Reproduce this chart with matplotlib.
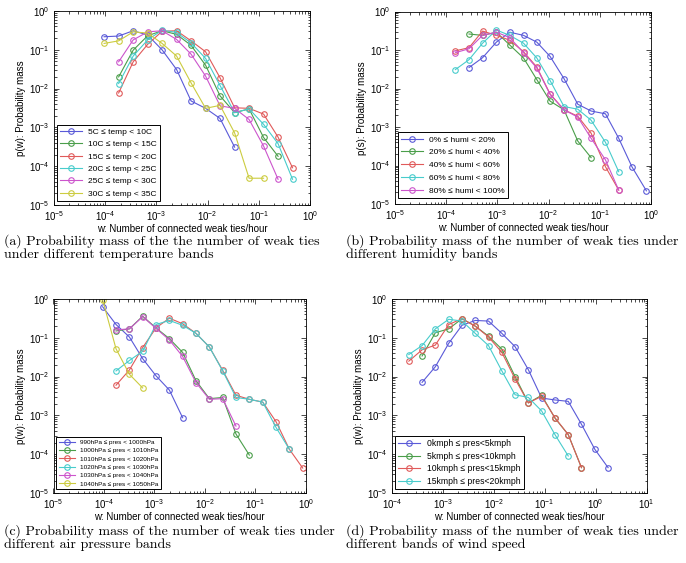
import numpy as np
import matplotlib
matplotlib.use("Agg")
import matplotlib.pyplot as plt
from matplotlib.ticker import LogLocator, NullFormatter

plt.rcParams['font.family'] = ['Liberation Sans', 'DejaVu Sans']
nan = np.nan

# colours (old matlab defaults, a bit washed out as in the scan)
cols = ['#5a5ad8', '#4a9e4a', '#e05a5a', '#48cccc', '#cc55cc', '#cccc40']

# ---- (a) temperature
xa = [9.5e-5, 1.83e-4, 3.52e-4, 6.75e-4, 1.29e-3, 2.48e-3, 4.76e-3, 9.14e-3,
      1.75e-2, 3.37e-2, 6.46e-2, 0.124, 0.238, 0.456]
temp_5_10 = [0.217, 0.226, 0.31, 0.24, 0.10, 0.031, 0.0048, 0.0031, 0.0017, 0.00031, nan, nan, nan, nan]
temp_10_15 = [nan, 0.020, 0.098, 0.23, 0.31, 0.25, 0.13, 0.040, 0.0065, 0.0024, 0.0030, 0.00055, 0.00018, nan]
temp_15_20 = [nan, 0.0077, 0.049, 0.138, 0.30, 0.31, 0.17, 0.089, 0.019, 0.0032, 0.0031, 0.0022, 0.00056, 0.000091]
temp_20_25 = [nan, 0.0135, 0.069, 0.18, 0.32, 0.28, 0.15, 0.06, 0.012, 0.0024, 0.0030, 0.0012, 0.00038, 0.000046]
temp_25_30 = [nan, 0.049, 0.18, 0.29, 0.31, 0.185, 0.077, 0.021, 0.0036, 0.0031, 0.0016, 0.00033, 0.000046, nan]
temp_30_35 = [0.146, 0.17, 0.29, 0.27, 0.146, 0.069, 0.014, 0.0031, 0.0037, 0.00072, 0.000049, 0.000049, nan, nan]
labels_a = ['5C \u2264 temp < 10C', '10C \u2264 temp < 15C', '15C \u2264 temp < 20C',
            '20C \u2264 temp < 25C', '25C \u2264 temp < 30C', '30C \u2264 temp < 35C']

# ---- (b) humidity
xb = [1.51e-4, 2.79e-4, 5.13e-4, 9.55e-4, 1.74e-3, 3.24e-3, 5.89e-3, 1.07e-2,
      2.0e-2, 3.72e-2, 6.76e-2, 0.129, 0.234, 0.427, 0.813]
humi_0_20 = [nan, 0.035, 0.063, 0.16, 0.29, 0.24, 0.16, 0.068, 0.018, 0.0039, 0.0026, 0.0022, 0.00051, 0.000091, 0.000022]
humi_20_40 = [nan, 0.26, 0.24, 0.29, 0.135, 0.062, 0.017, 0.0047, 0.0028, 0.00043, 0.00016, nan, nan, nan, nan]
humi_40_60 = [0.095, 0.115, 0.31, 0.24, 0.18, 0.09, 0.036, 0.0072, 0.0028, 0.0019, 0.00069, 0.000093, 0.000023, nan, nan]
humi_60_80 = [0.031, 0.056, 0.15, 0.33, 0.24, 0.15, 0.062, 0.016, 0.0034, 0.0029, 0.0015, 0.0004, 0.000069, nan, nan]
humi_80_100 = [0.085, 0.108, 0.24, 0.29, 0.21, 0.085, 0.034, 0.007, 0.0028, 0.0018, 0.00051, 0.00014, 0.000023, nan, nan]
labels_b = ['0% \u2264 humi < 20%', '20% \u2264 humi < 40%', '40% \u2264 humi < 60%',
            '60% \u2264 humi < 80%', '80% \u2264 humi < 100%']

# ---- (c) air pressure
xc = [9.4e-5, 1.73e-4, 3.18e-4, 5.83e-4, 1.07e-3, 1.97e-3, 3.61e-3, 6.64e-3,
      1.22e-2, 2.24e-2, 4.11e-2, 7.55e-2, 0.139, 0.255, 0.468, 0.86]
pres_990 = [0.63, 0.22, 0.105, 0.029, 0.0105, 0.0045, 0.00087, nan, nan, nan, nan, nan, nan, nan, nan, nan]
pres_1000 = [nan, 0.15, 0.17, 0.36, 0.18, 0.095, 0.042, 0.0078, 0.0027, 0.0029, 0.00033, 0.000095, nan, nan, nan, nan]
pres_1010 = [nan, 0.006, 0.0148, 0.056, 0.18, 0.32, 0.23, 0.13, 0.058, 0.0145, 0.0033, 0.0026, 0.0022, 0.00069, 0.000134, 0.000044]
pres_1020 = [nan, 0.014, 0.026, 0.045, 0.22, 0.28, 0.21, 0.13, 0.058, 0.014, 0.0029, 0.0026, 0.0022, 0.00049, 0.000134, nan]
pres_1030 = [nan, 0.16, 0.17, 0.35, 0.175, 0.088, 0.033, 0.007, 0.0026, 0.0027, 0.00053, nan, nan, nan, nan, nan]
pres_1040 = [0.95, 0.052, 0.0115, 0.0051, nan, nan, nan, nan, nan, nan, nan, nan, nan, nan, nan, nan]
labels_c = ['990hPa \u2264 pres < 1000hPa', '1000hPa \u2264 pres < 1010hPa', '1010hPa \u2264 pres < 1020hPa',
            '1020hPa \u2264 pres < 1030hPa', '1030hPa \u2264 pres < 1040hPa', '1040hPa \u2264 pres < 1050hPa']

# ---- (d) wind speed
xd = [2.14e-4, 3.90e-4, 7.11e-4, 1.30e-3, 2.37e-3, 4.32e-3, 7.87e-3, 1.44e-2,
      2.62e-2, 4.78e-2, 8.71e-2, 0.159, 0.290, 0.528, 0.964, 1.76]
wind_0_5 = [nan, 0.0071, 0.018, 0.072, 0.21, 0.28, 0.27, 0.13, 0.059, 0.015, 0.0028, 0.0025, 0.0023, 0.00059, 0.000134, 0.000045]
wind_5_10 = [nan, 0.034, 0.135, 0.17, 0.31, 0.20, 0.11, 0.051, 0.010, 0.0021, 0.0033, 0.00085, 0.00032, 0.000045, nan, nan]
wind_10_15 = [0.025, 0.049, 0.065, 0.22, 0.31, 0.20, 0.105, 0.042, 0.0087, 0.0021, 0.0031, 0.00087, 0.00032, 0.000045, nan, nan]
wind_15_20 = [0.037, 0.063, 0.17, 0.30, 0.27, 0.13, 0.063, 0.014, 0.0034, 0.0029, 0.0013, 0.00032, 0.00009, nan, nan, nan]
labels_d = ['0kmph \u2264 pres<5kmph', '5kmph \u2264 pres<10kmph',
            '10kmph \u2264 pres<15kmph', '15kmph \u2264 pres<20kmph']

captions = [
    '(a) Probability mass of the the number of weak ties\nunder different temperature bands',
    '(b) Probability mass of the number of weak ties under\ndifferent humidity bands',
    '(c) Probability mass of the number of weak ties under\ndifferent air pressure bands',
    '(d) Probability mass of the number of weak ties under\ndifferent bands of wind speed',
]

W, H = 686, 563
fig = plt.figure(figsize=(W / 100, H / 100), dpi=100)


def px_axes(l, t, r, b):
    return fig.add_axes([l / W, 1 - b / H, (r - l) / W, (b - t) / H])


def panel(ax, x, series, labels, xlim, ylabel, leg_fs, leg_sp, leg_loc_bbox):
    for i, (y, lab) in enumerate(zip(series, labels)):
        ax.plot(x, y, '-o', color=cols[i], lw=0.8, ms=4, mfc='none', mew=0.8, label=lab)
    ax.set_xscale('log')
    ax.set_yscale('log')
    ax.set_xlim(*xlim)
    ax.set_ylim(1e-5, 1)
    ax.xaxis.set_major_locator(LogLocator(base=10, numticks=10))
    ax.yaxis.set_major_locator(LogLocator(base=10, numticks=10))
    ax.xaxis.set_minor_locator(LogLocator(base=10, subs=np.arange(2, 10), numticks=10))
    ax.yaxis.set_minor_locator(LogLocator(base=10, subs=np.arange(2, 10), numticks=10))
    ax.xaxis.set_minor_formatter(NullFormatter())
    ax.yaxis.set_minor_formatter(NullFormatter())
    ax.tick_params(which='both', direction='in', top=True, right=True, labelsize=7, width=0.5)
    ax.tick_params(which='major', length=3.5, pad=3)
    ax.tick_params(which='minor', length=1.8)
    for s in ax.spines.values():
        s.set_linewidth(0.6)
    ax.set_xlabel('w: Number of connected weak ties/hour', fontsize=7, labelpad=0.5)
    ax.set_ylabel(ylabel, fontsize=7, labelpad=2)
    leg = ax.legend(loc='lower left', bbox_to_anchor=leg_loc_bbox, fontsize=leg_fs, frameon=True,
                    fancybox=False, edgecolor='black', framealpha=1, borderpad=0.4,
                    handlelength=2.6, labelspacing=leg_sp, borderaxespad=0)
    leg.get_frame().set_linewidth(0.7)


ax_a = px_axes(54, 11, 310, 205)
panel(ax_a, xa, [temp_5_10, temp_10_15, temp_15_20, temp_20_25, temp_25_30, temp_30_35],
      labels_a, (1e-5, 1), 'p(w): Probability mass', 6.0, 0.55, (0.01, 0.02))

ax_b = px_axes(395, 11.5, 651, 204)
panel(ax_b, xb, [humi_0_20, humi_20_40, humi_40_60, humi_60_80, humi_80_100],
      labels_b, (1e-5, 1), 'p(s): Probability mass', 6.0, 0.6, (0.01, 0.03))

ax_c = px_axes(53.5, 299, 306, 493)
panel(ax_c, xc, [pres_990, pres_1000, pres_1010, pres_1020, pres_1030, pres_1040],
      labels_c, (1e-5, 1), 'p(w): Probability mass', 4.6, 0.45, (0.01, 0.02))

ax_d = px_axes(392, 299, 646.5, 493)
panel(ax_d, xd, [wind_0_5, wind_5_10, wind_10_15, wind_15_20],
      labels_d, (1e-4, 10), 'p(w): Probability mass', 6.2, 0.4, (0.01, 0.02))

cap_kw = dict(family=['cmr10', 'DejaVu Serif'], fontsize=10.0, va='top', ha='left', linespacing=1.1)
fig.text(4 / W, 1 - 234 / H, captions[0], **cap_kw)
fig.text(346 / W, 1 - 234 / H, captions[1], **cap_kw)
fig.text(4 / W, 1 - 524 / H, captions[2], **cap_kw)
fig.text(346 / W, 1 - 524 / H, captions[3], **cap_kw)

fig.savefig('out.png', dpi=100)
